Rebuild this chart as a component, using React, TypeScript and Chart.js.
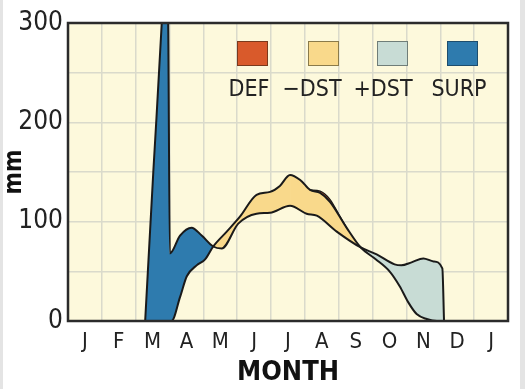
import React, { useEffect, useRef } from 'react';
import { Chart, registerables } from 'chart.js';

Chart.register(...registerables);

const MONTHS = ['J', 'F', 'M', 'A', 'M', 'J', 'J', 'A', 'S', 'O', 'N', 'D', 'J'];
const LEGEND_LABELS = ['DEF', '\u2212DST', '+DST', 'SURP'];

// x = position in months (0 = start of January), y = mm
const P_X = [2.28, 2.52, 2.77, 2.87, 2.96, 3.01, 3.31, 3.65, 3.95, 4.29, 4.54, 5.03, 5.57, 5.97, 6.56, 7.05, 7.35, 7.94, 8.65, 9.12, 9.65, 9.85, 10.15, 10.5, 10.8, 11.06, 11.11];
const P_Y = [0, 150, 300, 380, 300, 68, 86, 94, 86, 75, 73, 98, 108, 109, 116, 108, 106, 90, 74, 67, 57, 56, 59, 63, 60, 53, 0];
const PE_X = [2.28, 3.06, 3.31, 3.51, 3.8, 4.05, 4.29, 4.69, 5.08, 5.57, 5.97, 6.26, 6.56, 6.86, 7.15, 7.45, 7.74, 8.23, 8.65, 9.1, 9.5, 9.8, 10.05, 10.3, 10.6, 10.9, 11.11];
const PE_Y = [0, 0, 24, 45, 56, 62, 75, 90, 105, 127, 130, 136, 147, 142, 132, 129, 120, 94, 74, 62, 50, 35, 19, 7, 2, 0, 0];
const DEF_X = [7.15, 7.45, 7.74, 8.0, 8.23];
const DEF_Y = [132, 130.8, 122.5, 107.5, 94];
const SPLIT_X = 6.56;

const COLOR_DEF = '#D95A2B';
const COLOR_NEG = '#F9D98B';
const COLOR_POS = '#C8DCD5';
const COLOR_SURP = '#2E7BAE';
const LEGEND_COLORS = [COLOR_DEF, COLOR_NEG, COLOR_POS, COLOR_SURP];
const LEGEND_EDGES = ['#7a3a1c', '#8a7a4a', '#6f7d78', '#1d4d6d'];
const LINE = '#1a1a1a';
const BG = '#FDF9DC';
const GRID = '#DADACB';
const TEXT = '#222222';
const FONT = '"Liberation Sans Narrow", "DejaVu Sans Condensed", "Open Sans", sans-serif';

const pts = (xs: number[], ys: number[]) => xs.map((x, i) => ({ x, y: ys[i] }));

export default function App() {
  const ref = useRef<HTMLCanvasElement>(null);
  useEffect(() => {
    const pAll = pts(P_X, P_Y);
    const pSpring = pAll.filter((p) => p.x <= SPLIT_X);
    const pFall = pAll.filter((p) => p.x >= SPLIT_X);
    const common = {
      xAxisID: 'xv',
      yAxisID: 'y',
      pointRadius: 0,
      pointHoverRadius: 0,
      cubicInterpolationMode: 'monotone' as const,
    };
    const bgPlugin = {
      id: 'bgPlot',
      beforeDraw(chart: any) {
        const { ctx, chartArea: a } = chart;
        ctx.save();
        ctx.fillStyle = BG;
        ctx.fillRect(a.left, a.top, a.right - a.left, a.bottom - a.top);
        ctx.restore();
      },
    };
    const legendPlugin = {
      id: 'boxLegend',
      afterDatasetsDraw(chart: any) {
        const { ctx } = chart;
        const boxX = [237, 308, 377, 447];
        const textX = [249, 312, 383, 459];
        ctx.save();
        LEGEND_LABELS.forEach((lab, i) => {
          ctx.fillStyle = LEGEND_COLORS[i];
          ctx.fillRect(boxX[i], 41, 31, 25);
          ctx.strokeStyle = LEGEND_EDGES[i];
          ctx.lineWidth = 1;
          ctx.strokeRect(boxX[i] + 0.5, 41.5, 30, 24);
          ctx.fillStyle = TEXT;
          ctx.font = '23px ' + FONT;
          ctx.textAlign = 'center';
          ctx.textBaseline = 'middle';
          ctx.fillText(lab, textX[i], 90);
        });
        ctx.restore();
      },
    };
    const framePlugin = {
      id: 'frame',
      afterDraw(chart: any) {
        const { ctx, chartArea: a } = chart;
        ctx.save();
        ctx.strokeStyle = '#2b2b2b';
        ctx.lineWidth = 2.5;
        ctx.strokeRect(a.left, a.top, a.right - a.left, a.bottom - a.top);
        ctx.restore();
      },
    };
    const chart = new Chart(ref.current as HTMLCanvasElement, {
      type: 'line',
      data: {
        datasets: [
          { ...common, label: 'P', data: pAll, borderColor: LINE, borderWidth: 2, fill: false },
          { ...common, label: 'PE', data: pts(PE_X, PE_Y), borderColor: LINE, borderWidth: 2, fill: false },
          {
            ...common,
            label: 'DEF',
            data: pts(DEF_X, DEF_Y),
            borderColor: LINE,
            borderWidth: 1.2,
            fill: { target: 1, above: COLOR_DEF, below: 'rgba(0,0,0,0)' },
          },
          {
            ...common,
            label: 'spring',
            data: pSpring,
            borderColor: 'rgba(0,0,0,0)',
            borderWidth: 0,
            fill: { target: 1, above: COLOR_SURP, below: COLOR_NEG },
          },
          {
            ...common,
            label: 'fall',
            data: pFall,
            borderColor: 'rgba(0,0,0,0)',
            borderWidth: 0,
            fill: { target: 1, above: COLOR_POS, below: COLOR_NEG },
          },
        ] as any,
      },
      options: {
        responsive: false,
        animation: false,
        events: [],
        layout: { padding: { top: 23, right: 17, left: 0, bottom: 0 } },
        plugins: {
          legend: { display: false },
          tooltip: { enabled: false },
          filler: { drawTime: 'beforeDatasetsDraw' },
        } as any,
        scales: {
          x: {
            type: 'category',
            labels: MONTHS,
            offset: true,
            position: 'bottom',
            grid: { offset: true, color: GRID, lineWidth: 1.5, drawTicks: false },
            border: { display: false },
            ticks: { color: TEXT, font: { family: FONT, size: 22 }, padding: 8, autoSkip: false, maxRotation: 0 },
            title: {
              display: true,
              text: 'MONTH',
              color: '#111',
              font: { family: FONT, size: 27, weight: 'bold', lineHeight: 1 },
              padding: { top: 0, bottom: 3 },
            },
            afterFit: (s: any) => {
              s.height = 68;
            },
          },
          xv: { type: 'linear', min: 0, max: 13, display: false },
          y: {
            type: 'linear',
            min: 0,
            max: 300,
            position: 'left',
            grid: { color: GRID, lineWidth: 1.5, drawTicks: false },
            border: { display: false },
            ticks: {
              stepSize: 50,
              color: TEXT,
              font: { family: FONT, size: 26 },
              padding: 5,
              callback: (v: any) => (Number(v) % 100 === 0 ? String(v) : ''),
            },
            title: {
              display: true,
              text: 'mm',
              color: '#111',
              font: { family: FONT, size: 24, weight: 'bold', lineHeight: 1 },
              padding: { top: 3, bottom: 0 },
            },
            afterFit: (s: any) => {
              s.width = 68;
            },
          },
        } as any,
      },
      plugins: [bgPlugin, legendPlugin, framePlugin],
    });
    return () => chart.destroy();
  }, []);
  return (
    <div style={{ position: 'fixed', left: 0, top: 0, width: 525, height: 389, background: '#fff', overflow: 'hidden' }}>
      <div style={{ position: 'absolute', left: 0, top: 0, width: 3, height: 389, background: '#e4e4e4' }} />
      <div style={{ position: 'absolute', right: 0, top: 0, width: 5, height: 389, background: '#e4e4e4' }} />
      <canvas ref={ref} width={525} height={389} style={{ position: 'absolute', left: 0, top: 0 }} />
    </div>
  );
}
